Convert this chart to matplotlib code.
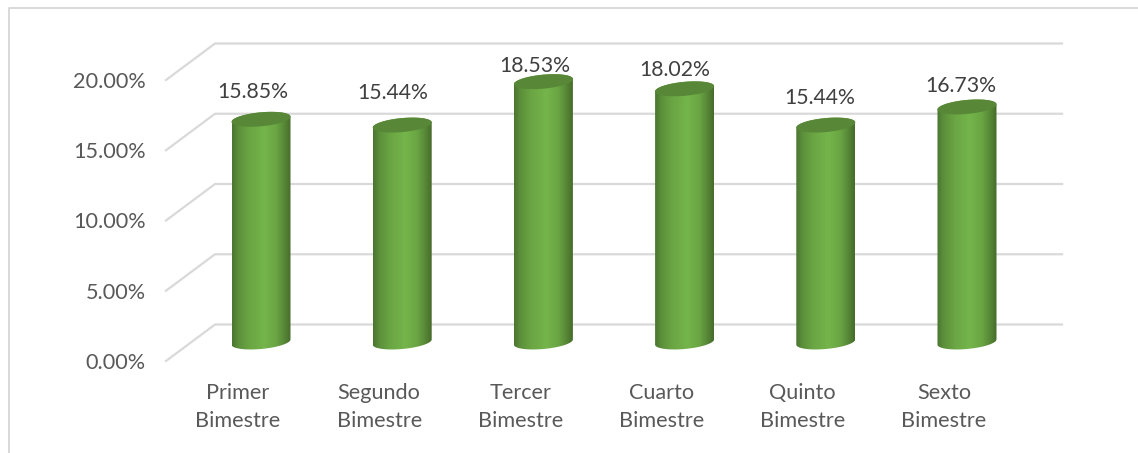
import numpy as np
import matplotlib
matplotlib.use("Agg")
import matplotlib.pyplot as plt
from matplotlib.colors import LinearSegmentedColormap
from matplotlib.patches import Polygon

plt.rcParams['font.family'] = ['Lato', 'DejaVu Sans']

categories = ['Primer\nBimestre', 'Segundo\nBimestre', 'Tercer\nBimestre',
              'Cuarto\nBimestre', 'Quinto\nBimestre', 'Sexto\nBimestre']
values = [15.85, 15.44, 18.53, 18.02, 15.44, 16.73]
y_ticks = [0, 5, 10, 15, 20]

W, H = 1138, 453
# pixel scale of the plane the bars stand on
x0, dx = 261.0, 141.2
y0, dy = 342.0, 14.05
# label nudges, in px above the bar top
label_up = [27, 32, 16, 19, 27, 21]
label_left = [8, 9, 9, 10, 6, 6]


def to_x(px):
    return (px - x0) / dx


def to_y(py):
    return (y0 - py) / dy


def ellipse(i, v, t):
    # sheared ellipse, right side sits higher than the left
    a, b, s = 29.5, 7.0, 2.6
    px = x0 + i * dx + a * np.cos(t)
    py = y0 - v * dy - s * np.cos(t) - b * np.sin(t)
    return to_x(px), to_y(py)


fig = plt.figure(figsize=(W / 100, H / 100), dpi=100)
ax = fig.add_axes([0, 0, 1, 1])
ax.set_xlim(to_x(0), to_x(W))
ax.set_ylim(to_y(H), to_y(0))
ax.axis('off')

# frame
ax.plot([to_x(9), to_x(9), to_x(W)], [to_y(H), to_y(7.5), to_y(7.5)],
        color='#d9d9d9', lw=1.4, zorder=1)

# 3d floor and walls
for v in y_ticks:
    back = 324.5 - v * 14.05
    front = 361 - v * 14.05
    ax.plot([to_x(166), to_x(215), to_x(1062)],
            [to_y(front), to_y(back), to_y(back)],
            color='#d9d9d9', lw=1.6, zorder=2, solid_joinstyle='miter')
    ax.text(to_x(146), to_y(front + 2), '%.2f%%' % v, ha='right', va='center',
            fontsize=15.6, color='#595959')

cmap = LinearSegmentedColormap.from_list('cyl', [
    (0.0, '#4a7430'), (0.1, '#5b8e39'), (0.3, '#6ba644'), (0.55, '#74b54b'),
    (0.75, '#6aa543'), (0.9, '#558535'), (1.0, '#466c2b')])
grad = np.linspace(0, 1, 256).reshape(1, -1)

for i, v in enumerate(values):
    t1 = np.linspace(np.pi, 2 * np.pi, 60)
    t2 = np.linspace(0, np.pi, 60)
    bx, by = ellipse(i, 0, t1)
    tx, ty = ellipse(i, v, t2)
    body = Polygon(np.column_stack([np.r_[bx, tx], np.r_[by, ty]]),
                   closed=True, transform=ax.transData, fc='none', ec='none')
    ax.add_patch(body)
    left, right = i - 29.5 / dx, i + 29.5 / dx
    im = ax.imshow(grad, cmap=cmap, aspect='auto', zorder=3,
                   extent=[left, right, -2, v + 2], interpolation='bilinear')
    im.set_clip_path(body)

    t = np.linspace(0, 2 * np.pi, 120)
    cx, cy = ellipse(i, v, t)
    ax.fill(cx, cy, color='#578737', lw=0, zorder=4)

    ax.text(i - label_left[i] / dx, v + label_up[i] / dy, '%.2f%%' % v,
            ha='center', va='center', fontsize=15.3, color='#404040', zorder=5)
    ax.text(i - 23 / dx, to_y(407), categories[i], ha='center', va='center',
            fontsize=15.6, color='#595959', linespacing=1.55)

ax.set_xlim(to_x(0), to_x(W))
ax.set_ylim(to_y(H), to_y(0))
fig.savefig('out.png', dpi=100)
